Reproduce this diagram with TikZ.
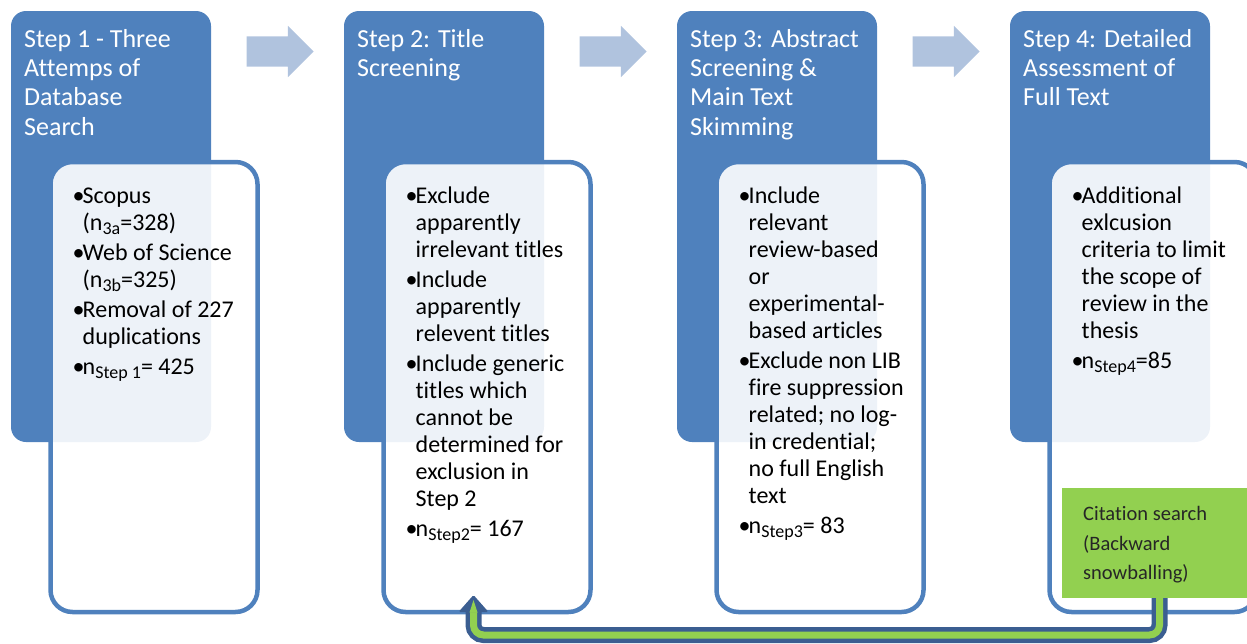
\documentclass[tikz,border=0pt]{standalone}
\usepackage{fontspec}
\setmainfont{Carlito}[Ligatures={NoCommon,NoContextual}]
\usetikzlibrary{positioning,shapes.arrows}

\definecolor{stepblue}{RGB}{79,129,189}
\definecolor{arrowgrey}{RGB}{176,195,222}
\definecolor{citegreen}{RGB}{146,208,80}
\definecolor{loopblue}{RGB}{59,94,145}

\newcommand{\bul}{\makebox[10pt][l]{\textbullet}}
\newcommand{\ind}{\hspace*{10pt}}
\newcommand{\lsub}[1]{\raisebox{-0.3ex}{\fontsize{18}{18}\selectfont #1}}

\tikzset{
  stepbox/.style={fill=stepblue, rounded corners=15pt, inner sep=0pt, outer sep=0pt,
    anchor=north west, minimum width=200pt, minimum height=431pt},
  listbox/.style={draw=stepblue, line width=4.5pt, fill=white, fill opacity=0.9, draw opacity=1,
    rounded corners=22pt, inner sep=0pt, outer sep=0pt, anchor=north west,
    minimum width=207pt, minimum height=450pt},
  steptitle/.style={text=white, font=\fontsize{26}{29.3}\selectfont, align=left, inner sep=0pt, anchor=north west},
  steplist/.style={text=black, font=\fontsize{24}{27}\selectfont, align=left, inner sep=0pt, anchor=north west},
  flowarrow/.style={shape=single arrow, fill=arrowgrey, inner xsep=0pt, inner ysep=15pt,
    minimum height=67pt, single arrow head extend=10.5pt, single arrow head indent=0pt},
  citebox/.style={fill=citegreen, inner sep=0pt, outer sep=0pt, anchor=north west,
    minimum width=190pt, minimum height=110pt},
  citetext/.style={text=black!85, font=\fontsize{20.5}{29.5}\selectfont, align=left, inner sep=0pt, anchor=north west},
  loopline/.style={rounded corners=10pt, line cap=butt},
}

\begin{document}
\begin{tikzpicture}[x=1pt, y=-1pt]
\useasboundingbox (0,0) rectangle (1247,643);

% step boxes
\node[stepbox] (s1) at (11,11) {};
\node[stepbox] (s2) at (344,11) {};
\node[stepbox] (s3) at (677,11) {};
\node[stepbox] (s4) at (1010,11) {};

% list boxes
\node[listbox] (w1) at (50.5,162) {};
\node[listbox] (w2) at (383.5,162) {};
\node[listbox] (w3) at (716.5,162) {};
\node[listbox] (w4) at (1049.5,162) {};

% titles
\node[steptitle] (t1) at ([xshift=13pt, yshift=-15.5pt]s1.north west) {\strut Step 1 - Three\\ Attemps of\\ Database\\ Search};
\node[steptitle] (t2) at ([xshift=13pt, yshift=-15.5pt]s2.north west) {\strut Step 2: Title\\ Screening};
\node[steptitle] (t3) at ([xshift=13pt, yshift=-15.5pt]s3.north west) {\strut Step 3: Abstract\\ Screening \&\\ Main Text\\ Skimming};
\node[steptitle] (t4) at ([xshift=13pt, yshift=-15.5pt]s4.north west) {\strut Step 4: Detailed\\ Assessment of\\ Full Text};

% lists
\node[steplist] (l1) at ([xshift=22pt, yshift=-22.6pt]w1.north west) {\strut\bul Scopus\\
  \ind(n\lsub{3a}=328)\\[3pt]
  \bul Web of Science\\
  \ind(n\lsub{3b}=325)\\[3pt]
  \bul Removal of 227\\
  \ind duplications\\[3pt]
  \bul n\lsub{Step 1}= 425};
\node[steplist] (l2) at ([xshift=22pt, yshift=-22.6pt]w2.north west) {\strut\bul Exclude\\
  \ind apparently\\
  \ind irrelevant titles\\[3pt]
  \bul Include\\
  \ind apparently\\
  \ind relevent titles\\[3pt]
  \bul Include generic\\
  \ind titles which\\
  \ind cannot be\\
  \ind determined for\\
  \ind exclusion in\\
  \ind Step 2\\[3pt]
  \bul n\lsub{Step2}= 167};
\node[steplist] (l3) at ([xshift=22pt, yshift=-22.6pt]w3.north west) {\strut\bul Include\\
  \ind relevant\\
  \ind review-based\\
  \ind or\\
  \ind experimental-\\
  \ind based articles\\[3pt]
  \bul Exclude non LIB\\
  \ind fire suppression\\
  \ind related; no log-\\
  \ind in credential;\\
  \ind no full English\\
  \ind text\\[3pt]
  \bul n\lsub{Step3}= 83};
\node[steplist] (l4) at ([xshift=22pt, yshift=-22.6pt]w4.north west) {\strut\bul Additional\\
  \ind exlcusion\\
  \ind criteria to limit\\
  \ind the scope of\\
  \ind review in the\\
  \ind thesis\\[3pt]
  \bul n\lsub{Step4}=85};

% arrows between steps
\node[flowarrow] (a12) at (272.5,51.5) {};
\node[flowarrow] (a23) at (605.5,51.5) {};
\node[flowarrow] (a34) at (938.5,51.5) {};

% citation search
\node[citebox] (cite) at (1062,488) {};
\node[citetext] (ct) at ([xshift=21pt, yshift=-11.7pt]cite.north west) {\strut Citation search\\ (Backward\\ snowballing)};

% loop back to step 2
\coordinate (tip) at ([xshift=-13.5pt, yshift=17pt]w2.south);
\draw[loopline, line width=16pt, draw=loopblue] ([xshift=2.5pt]cite.south) -- ++(0,37) -| ([xshift=-13.5pt]w2.south);
\draw[loopline, line width=7pt, draw=citegreen] ([xshift=2.5pt]cite.south) -- ++(0,37) -| ([xshift=-13.5pt]w2.south);
\fill[loopblue, rounded corners=1.5pt] (tip) -- ++(-15,17) -- ++(30,0) -- cycle;
\fill[citegreen] ([yshift=-5pt]tip) -- ++(-4,12.5) -- ++(8,0) -- cycle;
\end{tikzpicture}
\end{document}
